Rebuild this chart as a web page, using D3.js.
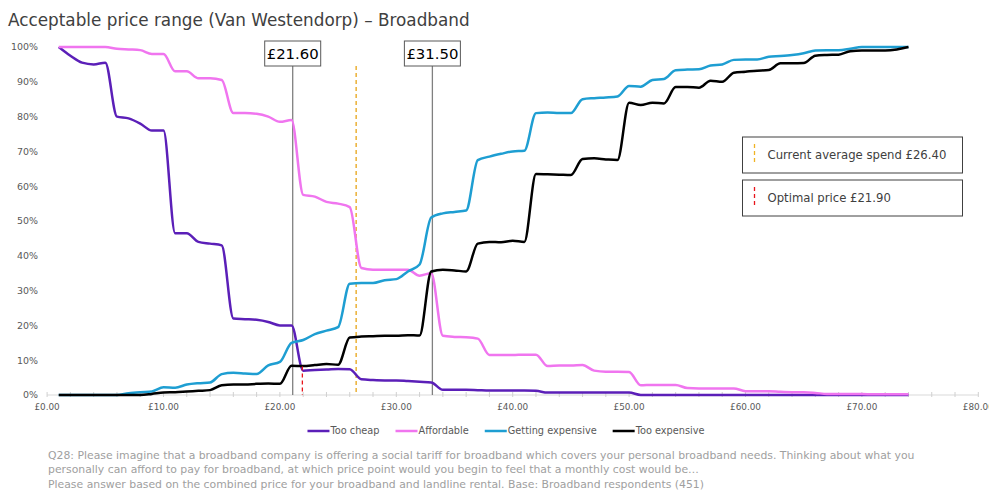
<!DOCTYPE html>
<html>
<head>
<meta charset="utf-8">
<script src="https://cdn.jsdelivr.net/npm/d3@7"></script>
<style>
  body { margin: 0; background: #fff; }
  text { font-family: "DejaVu Sans", sans-serif; }
</style>
</head>
<body>
<script>
// prices are whole pounds, £1 .. £74
var prices = d3.range(1, 75);

var tooCheap = [100,97.5,95.5,95,95.5,80,79.5,78,76,76,
    46.5,46.5,44,43.5,43,22,21.8,21.6,21,20,
    20,7,7.2,7.3,7.5,7.4,4.5,4.3,4.2,4.2,
    4,3.8,3.6,1.5,1.5,1.5,1.4,1.3,1.3,1.3,
    1.3,1.2,0.7,0.7,0.7,0.7,0.7,0.7,0.7,0.7,
    0,0,0,0,0,0,0,0,0,0,
    0,0,0,0,0,0,0,0,0,0,
    0,0,0,0];

var affordable = [100,100,100,100,100,99.5,99.3,99.1,98,98,
    93,93,91,91,90.5,81,81,80.8,80,78.5,
    79,57.5,57,55.5,55,54,36.5,36,36,36,
    36,34.3,35,17,16.7,16.6,16.2,11.5,11.5,11.5,
    11.6,11.6,8.3,8.5,8.5,8.6,7,6.7,6.7,6.6,
    2.8,2.9,2.9,2.9,2,1.9,1.9,1.9,1.9,1.1,
    1.1,1.1,0.9,0.8,0.8,0.6,0.3,0.3,0.3,0.3,
    0.2,0.2,0.2,0.2];

var gettingExpensive = [0,0,0,0,0,0,0.5,0.8,1,2.2,
    2.1,3,3.4,3.6,6,6.4,6.2,6,8.5,9.5,
    15,15.8,17.5,18.5,19.5,32,32.2,32.2,33,33.3,
    35.5,37.5,51,52.2,52.6,53,67.5,68.5,69.3,70,
    70.2,81,81.2,81,81,85,85.3,85.5,85.8,88.8,
    88.6,90.5,90.8,93.3,93.5,93.6,94.7,95,96.3,96.4,
    96.4,97.2,97.4,97.7,98.2,99,99.1,99.1,99.5,100,
    100,100,100,100];

var tooExpensive = [0,0,0,0,0,0,0,0,0.3,0.7,
    0.8,1,1.2,1.4,2.8,3,3,3.2,3.3,3.2,
    8.4,8.3,8.6,8.9,8.7,16.5,16.8,16.9,17,17,
    17.2,17.1,35.5,36,35.8,35.5,43.5,44,43.9,44.3,
    44,63.5,63.4,63.3,63.2,67.8,68,67.7,67.5,84,
    83.3,84,83.8,88.5,88.5,88.3,90.3,90,92.6,92.9,
    93.2,93.4,95.3,95.3,95.4,97.5,97.7,97.8,98.8,99,
    99,99,99.3,100];

var seriesNames  = ['Too cheap', 'Affordable', 'Getting expensive', 'Too expensive'];
var seriesColors = ['#5b1fb8', '#f075ef', '#1e9ed2', '#000000'];
var seriesValues = [tooCheap, affordable, gettingExpensive, tooExpensive];

var yTicks = [0, 10, 20, 30, 40, 50, 60, 70, 80, 90, 100];
var xLabels = [0, 10, 20, 30, 40, 50, 60, 70, 80];

// intersection markers (placed where they sit on the picture)
var markers = [{label: '£21.60', x: 21.1}, {label: '£31.50', x: 33.1}];
var currentSpend = 26.55, optimalPrice = 21.93, optimalTop = 8.2;

var titleText = 'Acceptable price range (Van Westendorp) \u2013 Broadband';
var footnote = [
    'Q28: Please imagine that a broadband company is offering a social tariff for broadband which covers your personal broadband needs. Thinking about what you',
    'personally can afford to pay for broadband, at which price point would you begin to feel that a monthly cost would be\u2026',
    'Please answer based on the combined price for your broadband and landline rental. Base: Broadband respondents (451)'
];

/**************************************/

var width = 989, height = 490;

var svg = d3.select('body').append('svg')
    .attr('width', width)
    .attr('height', height);

var x = d3.scaleLinear().domain([0, 80]).range([47.1, 978.3]);
var y = d3.scaleLinear().domain([0, 100]).range([395, 47]);

// shrink / grow a text so that it is as wide as the picture's text
function fitWidth(sel, w) {
    var cur = sel.node().getComputedTextLength();
    var fs = parseFloat(sel.attr('font-size'));
    sel.attr('font-size', fs * w / cur);
    return fs * w / cur;
}

// title
var title = svg.append('text')
    .attr('x', 8).attr('y', 26)
    .attr('font-size', 17)
    .attr('fill', '#404040')
    .text(titleText);
fitWidth(title, 462);

// x axis
svg.append('line')
    .attr('x1', x(0)).attr('x2', x(80))
    .attr('y1', y(0)).attr('y2', y(0))
    .attr('stroke', '#d9d9d9');

svg.append('g').selectAll('line')
    .data(d3.range(0, 81, 2))
    .enter().append('line')
    .attr('x1', function(d) { return x(d); })
    .attr('x2', function(d) { return x(d); })
    .attr('y1', y(0) - 3).attr('y2', y(0) + 2)
    .attr('stroke', '#d0d0d0');

var xl = svg.append('g').selectAll('text')
    .data(xLabels)
    .enter().append('text')
    .attr('x', function(d) { return x(d); })
    .attr('y', 407)
    .attr('dy', '0.35em')
    .attr('text-anchor', 'middle')
    .attr('font-size', 10)
    .attr('fill', '#595959')
    .text(function(d) { return '£' + d.toFixed(2); });
var xfs = fitWidth(d3.select(xl.nodes()[1]), 31);
xl.attr('font-size', xfs);

// y labels
var yl = svg.append('g').selectAll('text')
    .data(yTicks)
    .enter().append('text')
    .attr('x', 38)
    .attr('y', function(d) { return y(d); })
    .attr('dy', '0.35em')
    .attr('text-anchor', 'end')
    .attr('font-size', 10)
    .attr('fill', '#595959')
    .text(function(d) { return d + '%'; });
var yfs = fitWidth(d3.select(yl.nodes()[10]), 27);
yl.attr('font-size', yfs);

// reference lines behind the curves
svg.append('line')
    .attr('x1', x(currentSpend)).attr('x2', x(currentSpend))
    .attr('y1', 66).attr('y2', y(0))
    .attr('stroke', '#e8a417')
    .attr('stroke-width', 1.3)
    .attr('stroke-dasharray', '4,3');

markers.forEach(function(m) {
    svg.append('line')
        .attr('x1', x(m.x)).attr('x2', x(m.x))
        .attr('y1', 66).attr('y2', y(0))
        .attr('stroke', '#808080')
        .attr('stroke-width', 1.3);
});

// curves (smoothed like the original)
var line = d3.line()
    .x(function(d, i) { return x(prices[i]); })
    .y(function(d) { return y(d); })
    .curve(d3.curveMonotoneX);

svg.append('g').selectAll('path')
    .data(seriesValues)
    .enter().append('path')
    .attr('d', line)
    .attr('fill', 'none')
    .attr('stroke', function(d, i) { return seriesColors[i]; })
    .attr('stroke-width', 2.5)
    .attr('stroke-linejoin', 'round');

// optimal price (red dashed)
svg.append('line')
    .attr('x1', x(optimalPrice)).attr('x2', x(optimalPrice))
    .attr('y1', y(optimalTop)).attr('y2', y(0))
    .attr('stroke', '#e8141b')
    .attr('stroke-width', 1.3)
    .attr('stroke-dasharray', '4,3');

// marker boxes
markers.forEach(function(m) {
    var cx = x(m.x);
    svg.append('rect')
        .attr('x', cx - 28).attr('y', 41)
        .attr('width', 56).attr('height', 25)
        .attr('fill', '#fff')
        .attr('stroke', '#595959');
    var t = svg.append('text')
        .attr('x', cx).attr('y', 53.5)
        .attr('dy', '0.36em')
        .attr('text-anchor', 'middle')
        .attr('font-size', 18)
        .attr('fill', '#000')
        .text(m.label);
    fitWidth(t, 52);
});

// note boxes on the right
var notes = [
    {text: 'Current average spend £26.40', color: '#f0b323', y: 137},
    {text: 'Optimal price £21.90', color: '#e8141b', y: 180}
];
var noteFs = null;
notes.forEach(function(n, i) {
    svg.append('rect')
        .attr('x', 742.5).attr('y', n.y)
        .attr('width', 220).attr('height', 36)
        .attr('fill', '#fff')
        .attr('stroke', '#404040');
    svg.append('line')
        .attr('x1', 754.5).attr('x2', 754.5)
        .attr('y1', n.y + 7).attr('y2', n.y + 28)
        .attr('stroke', n.color)
        .attr('stroke-width', 1.3)
        .attr('stroke-dasharray', '4,3');
    var t = svg.append('text')
        .attr('x', 767.5).attr('y', n.y + 18)
        .attr('dy', '0.35em')
        .attr('font-size', 13)
        .attr('fill', '#404040')
        .text(n.text);
    if (i === 0) noteFs = fitWidth(t, 179);
    else t.attr('font-size', noteFs);
});

// legend
var legend = svg.append('g');
var lx = 0;
var items = [];
seriesNames.forEach(function(name, i) {
    var g = legend.append('g');
    g.append('line')
        .attr('x1', 0).attr('x2', 22)
        .attr('y1', 0).attr('y2', 0)
        .attr('stroke', seriesColors[i])
        .attr('stroke-width', 2.5);
    var t = g.append('text')
        .attr('x', 23).attr('y', 0)
        .attr('dy', '0.35em')
        .attr('font-size', 10)
        .attr('fill', '#595959')
        .text(name);
    items.push(t);
});
var lfs = fitWidth(items[2], 89);
items.forEach(function(t) { t.attr('font-size', lfs); });
legend.selectAll('g').each(function(d, i) {
    d3.select(this).attr('transform', 'translate(' + lx + ',0)');
    lx += 23 + items[i].node().getComputedTextLength() + 16;
});
lx -= 16;
legend.attr('transform', 'translate(' + (506 - lx / 2) + ',431)');

// footnote
var fn = svg.append('g').selectAll('text')
    .data(footnote)
    .enter().append('text')
    .attr('x', 48)
    .attr('y', function(d, i) { return 455 + i * 14.5; })
    .attr('dy', '0.35em')
    .attr('font-size', 11)
    .attr('fill', '#a0a0a0')
    .text(function(d) { return d; });
var ffs = fitWidth(d3.select(fn.nodes()[0]), 867);
fn.attr('font-size', ffs);
</script>
</body>
</html>
